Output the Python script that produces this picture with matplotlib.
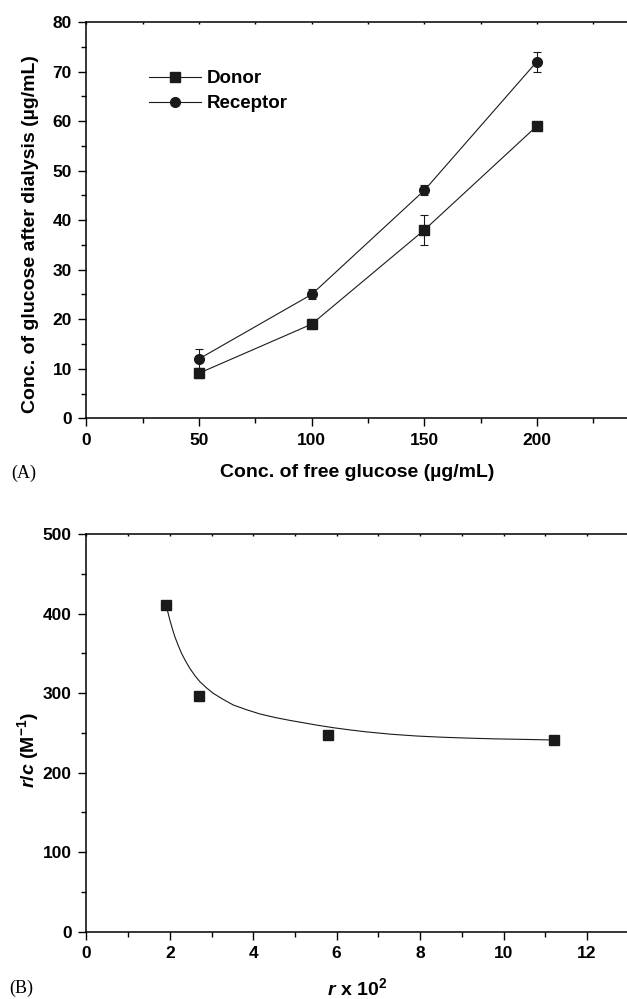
import numpy as np
import matplotlib
matplotlib.use('Agg')
import matplotlib.pyplot as plt
from matplotlib.ticker import MultipleLocator

plt.rcParams['font.family'] = ['Liberation Sans', 'DejaVu Sans']
plt.rcParams['font.weight'] = 'bold'
plt.rcParams['mathtext.fontset'] = 'custom'
plt.rcParams['mathtext.rm'] = 'Liberation Sans:bold'
plt.rcParams['mathtext.bf'] = 'Liberation Sans:bold'
plt.rcParams['mathtext.it'] = 'Liberation Sans:bold:italic'

# ── Panel A data ──────────────────────────────────────────────────────────────
free_glucose = [50, 100, 150, 200]
donor = [9.1, 19.0, 38.0, 59.0]
donor_err = [1.0, 1.0, 3.0, 0.7]
receptor = [12.0, 25.0, 46.0, 72.0]
receptor_err = [2.0, 1.0, 1.0, 2.0]

# ── Panel B data ──────────────────────────────────────────────────────────────
r_x100 = [1.9, 2.7, 5.8, 11.2]
r_over_c = [411, 296, 247, 241]
# fitted curve
fit_x = [1.90, 1.94, 2.00, 2.06, 2.12, 2.20, 2.28, 2.38, 2.48, 2.60, 2.72,
         2.88, 3.04, 3.28, 3.52, 3.84, 4.16, 4.52, 4.88, 5.12, 5.51, 5.91,
         6.31, 6.71, 7.31, 7.91, 8.51, 9.11, 9.71, 10.31, 11.20]
fit_y = [411, 404.4, 391.9, 381, 370.9, 360, 350, 340, 331, 322, 314.3,
         306.5, 299.7, 292, 285, 279, 273.7, 269.3, 265.6, 263.4, 259.8, 256.5,
         253.7, 251.2, 248.2, 246, 244.5, 243.4, 242.5, 241.9, 241]

fig = plt.figure(figsize=(6.27, 9.99), dpi=100)
ax1 = fig.add_axes([0.1378, 0.5813, 0.8622, 0.3967])
ax2 = fig.add_axes([0.1378, 0.0674, 0.8622, 0.3981])


def style(ax):
    for s in ['left', 'bottom', 'top']:
        ax.spines[s].set_linewidth(1.1)
    ax.spines['right'].set_visible(False)
    ax.tick_params(which='both', direction='out', width=1.0, labelsize=12.5,
                   top=False, right=False)
    ax.tick_params(which='major', length=5.5, pad=5)
    ax.tick_params(which='minor', length=3.5)
    # tiny marks on the top spine
    sec = ax.secondary_xaxis('top')
    sec.tick_params(which='both', direction='in', length=1.5, width=1.0,
                    labeltop=False)
    sec.spines['top'].set_visible(False)
    return sec


# ── (A) ───────────────────────────────────────────────────────────────────────
sec1 = style(ax1)
ax1.errorbar(free_glucose, donor, yerr=donor_err, color='#1a1a1a', marker='s',
             markersize=6.5, linewidth=0.8, elinewidth=0.8, capsize=3.2,
             capthick=0.8, label='Donor')
ax1.errorbar(free_glucose, receptor, yerr=receptor_err, color='#1a1a1a',
             marker='o', markersize=7, linewidth=0.8, elinewidth=0.8,
             capsize=3.2, capthick=0.8, label='Receptor')
ax1.set_xlim(0, 240)
ax1.set_ylim(0, 80)
ax1.xaxis.set_major_locator(MultipleLocator(50))
ax1.xaxis.set_minor_locator(MultipleLocator(25))
ax1.yaxis.set_major_locator(MultipleLocator(10))
ax1.yaxis.set_minor_locator(MultipleLocator(5))
ax1.set_xticks([0, 50, 100, 150, 200])
sec1.set_xticks(np.arange(0, 241, 25))
ax1.set_xlabel('Conc. of free glucose (µg/mL)', fontsize=14, fontweight='bold',
               va='center')
ax1.xaxis.set_label_coords(0.5, -0.137)
ax1.set_ylabel('Conc. of glucose after dialysis (µg/mL)', fontsize=14,
               fontweight='bold', va='center')
ax1.yaxis.set_label_coords(-0.104, 0.465)
handles, labels = ax1.get_legend_handles_labels()
handles = [h[0] for h in handles]
ax1.legend(handles, labels, loc='upper left', bbox_to_anchor=(0.116, 0.878),
           frameon=False, fontsize=13.5, handlelength=2.75, handletextpad=0.35,
           labelspacing=0.4, borderpad=0, borderaxespad=0)

# ── (B) ───────────────────────────────────────────────────────────────────────
sec2 = style(ax2)
ax2.plot(fit_x, fit_y, color='#1a1a1a', linewidth=0.8)
ax2.plot(r_x100, r_over_c, linestyle='none', marker='s', markersize=7,
         color='#1a1a1a')
ax2.set_xlim(0, 12.96)
ax2.set_ylim(0, 500)
ax2.set_xticks([0, 2, 4, 6, 8, 10, 12])
ax2.xaxis.set_minor_locator(MultipleLocator(1))
ax2.yaxis.set_major_locator(MultipleLocator(100))
ax2.yaxis.set_minor_locator(MultipleLocator(50))
sec2.set_xticks(np.arange(0, 13, 1))
ax2.set_xlabel(r'$\mathit{r}$ x 10$^{2}$', fontsize=14,
               fontweight='bold', va='center')
ax2.xaxis.set_label_coords(0.5, -0.142)
ax2.set_ylabel(r'$\mathit{r/c}$ (M$^{-1}$)', fontsize=14,
               fontweight='bold', va='center')
ax2.yaxis.set_label_coords(-0.108, 0.457)

for t in ax1.get_xticklabels() + ax1.get_yticklabels() + \
        ax2.get_xticklabels() + ax2.get_yticklabels():
    t.set_fontweight('bold')

fig.text(0.018, 1 - 473 / 999, '(A)', family='Liberation Serif',
         fontweight='normal', fontsize=13, va='center')
fig.text(0.015, 1 - 988 / 999, '(B)', family='Liberation Serif',
         fontweight='normal', fontsize=13, va='center')

fig.savefig('out.png', dpi=100)
